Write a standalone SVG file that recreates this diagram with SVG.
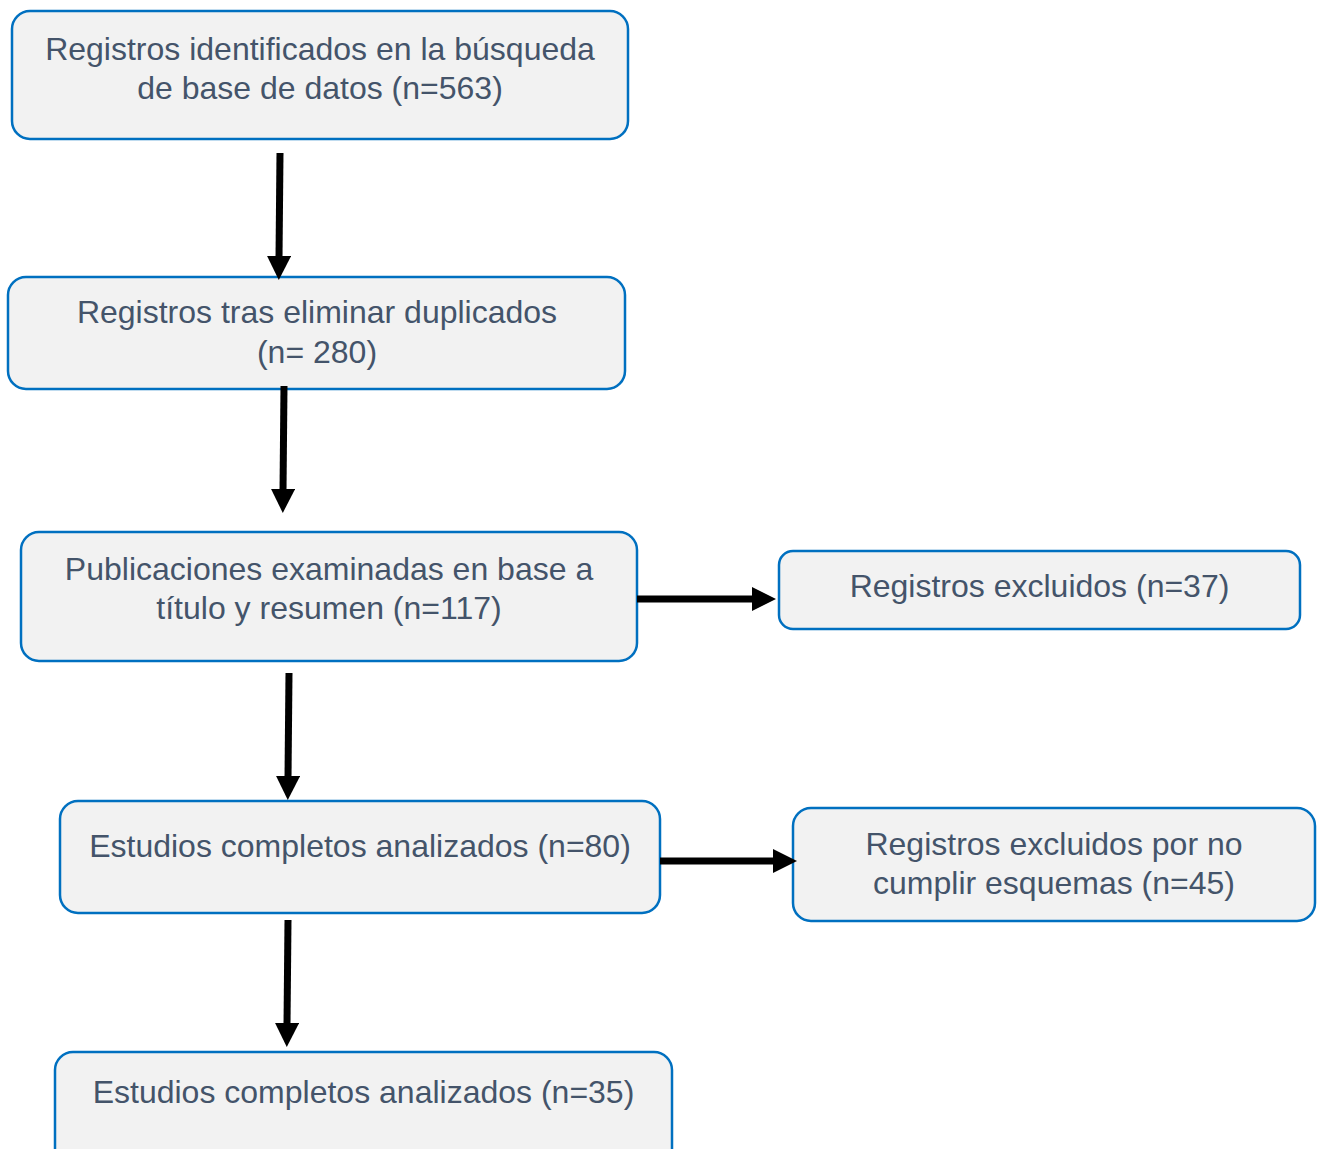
<svg xmlns="http://www.w3.org/2000/svg" width="1320" height="1149" viewBox="0 0 1320 1149">
<style>
.box{fill:#F2F2F2;stroke:#0070C0;stroke-width:2.5}
.t{font-family:"Liberation Sans",Arial,sans-serif;font-size:32px;fill:#44546A;text-anchor:middle}
.c{stroke:#000;stroke-width:7;fill:none;marker-end:url(#ah)}
</style>
<defs>
<marker id="ah" viewBox="0 0 24 24" refX="2" refY="12" markerWidth="24" markerHeight="24" markerUnits="userSpaceOnUse" orient="auto">
<path d="M0,0 L24,12 L0,24 z" fill="#000"/>
</marker>
</defs>
<rect width="1320" height="1149" fill="#fff"/>
<g id="n1"><rect class="box" x="12" y="11" width="616" height="128" rx="18"/>
<text class="t" x="320" y="60">Registros identificados en la búsqueda</text>
<text class="t" x="320" y="99">de base de datos (n=563)</text></g>
<g id="n2"><rect class="box" x="8" y="277" width="617" height="112" rx="18"/>
<text class="t" x="317" y="323">Registros tras eliminar duplicados</text>
<text class="t" x="317" y="363">(n= 280)</text></g>
<g id="n3"><rect class="box" x="21" y="532" width="616" height="129" rx="18"/>
<text class="t" x="329" y="580">Publicaciones examinadas en base a</text>
<text class="t" x="329" y="619">título y resumen (n=117)</text></g>
<g id="n4"><rect class="box" x="779" y="551" width="521" height="78" rx="14"/>
<text class="t" x="1039.5" y="597">Registros excluidos (n=37)</text></g>
<g id="n5"><rect class="box" x="60" y="801" width="600" height="112" rx="18"/>
<text class="t" x="360" y="857">Estudios completos analizados (n=80)</text></g>
<g id="n6"><rect class="box" x="793" y="808" width="522" height="113" rx="18"/>
<text class="t" x="1054" y="855">Registros excluidos por no</text>
<text class="t" x="1054" y="894">cumplir esquemas (n=45)</text></g>
<g id="n7"><rect class="box" x="55" y="1052" width="617" height="115" rx="18"/>
<text class="t" x="363.5" y="1103">Estudios completos analizados (n=35)</text></g>
<g id="connectors">
<line class="c" x1="280" y1="153" x2="279" y2="258"/>
<line class="c" x1="284" y1="386" x2="283" y2="491"/>
<line class="c" x1="289" y1="673" x2="288" y2="778"/>
<line class="c" x1="288" y1="920" x2="287" y2="1025"/>
<line class="c" x1="637" y1="599" x2="754" y2="599"/>
<line class="c" x1="660" y1="861" x2="775" y2="861"/>
</g>
</svg>
